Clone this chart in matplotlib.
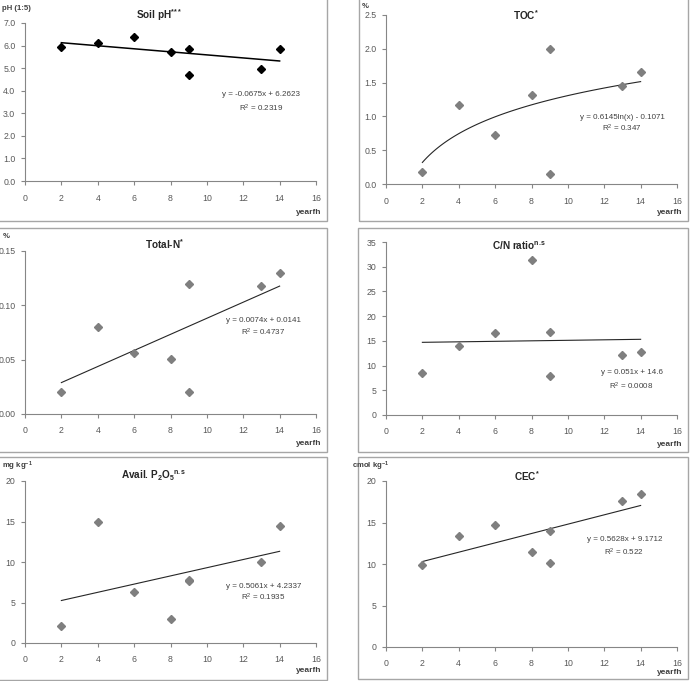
import numpy as np
import matplotlib
matplotlib.use("Agg")
import matplotlib.pyplot as plt
from matplotlib.patches import Rectangle
from matplotlib.transforms import offset_copy

plt.rcParams['font.family'] = ['Liberation Sans Narrow', 'Liberation Sans', 'DejaVu Sans']
plt.rcParams['mathtext.default'] = 'regular'

# years since ... (x values shared by all panels)
years = [2, 4, 6, 8, 9, 9, 13, 14]

ph = [5.93, 6.10, 6.38, 5.72, 5.83, 4.68, 4.95, 5.87]
toc = [0.18, 1.17, 0.73, 1.32, 2.00, 0.15, 1.45, 1.66]
total_n = [0.020, 0.080, 0.056, 0.051, 0.120, 0.020, 0.118, 0.130]
cn_ratio = [8.4, 14.0, 16.5, 31.4, 16.7, 7.8, 12.1, 12.7]
p2o5 = [2.1, 14.9, 6.3, 3.0, 7.8, 7.6, 10.0, 14.5]
cec = [9.9, 13.4, 14.7, 11.4, 14.0, 10.1, 17.6, 18.4]

# trend line coefficients (slope, intercept), kind
fits = [(-0.0675, 6.2623, 'lin'), (0.6145, -0.1071, 'log'), (0.0074, 0.0141, 'lin'),
        (0.051, 14.6, 'lin'), (0.5061, 4.2337, 'lin'), (0.5628, 9.1712, 'lin')]
eq_text = ["y = -0.0675x + 6.2623", "y = 0.6145ln(x) - 0.1071", "y = 0.0074x + 0.0141",
           "y = 0.051x + 14.6", "y = 0.5061x + 4.2337", "y = 0.5628x + 9.1712"]
r2_text = ["R$^2$ = 0.2319", "R$^2$ = 0.347", "R$^2$ = 0.4737",
           "R$^2$ = 0.0008", "R$^2$ = 0.1935", "R$^2$ = 0.522"]
titles = [r"Soil pH$^{*\!*\!*}$", "TOC$^{*}$", "Total-N$^{*}$",
          r"C/N ratio$^{n.\!s}$", r"Avail. P$_2$O$_5$$^{n.\!s}$", "CEC$^{*}$"]
units = ["pH (1:5)", "%", "%", "", "mg kg$^{-1}$", "cmol kg$^{-1}$"]
ylims = [(0, 7), (0, 2.5), (0, 0.15), (0, 35), (0, 20), (0, 20)]
ysteps = [1.0, 0.5, 0.05, 5, 5, 5]
yfmt = ["%.1f", "%.1f", "%.2f", "%d", "%d", "%d"]
series = [ph, toc, total_n, cn_ratio, p2o5, cec]

W, H = 690, 681
fig = plt.figure(figsize=(6.9, 6.81), dpi=100)

# axes rectangles in pixels: left, top, right, bottom
boxes_px = [(25, 23, 316, 181), (386, 15, 677, 184),
            (25, 251, 316, 414), (386, 242, 677, 415),
            (25, 481, 316, 643), (386, 481, 677, 647)]
title_pos = [(0.46, 1.05), (0.48, 1.0), (0.48, 1.04), (0.457, 0.98), (0.44, 1.03), (0.485, 1.03)]
unit_pos = [(2, 8), (362, 7), (3, 237), (0, 0), (2, 466), (352, 466)]
eq_pos = [(13.0, 3.85, 3.23), (12.98, 0.99, 0.83), (13.1, 0.0856, 0.0755),
          (13.5, 8.5, 5.7), (13.1, 7.0, 5.6), (13.1, 13.0, 11.4)]
xlabel_drop = [31, 29, 30, 30, 28, 26]  # pixels below x axis

# panel frames
frames = [(-3, -2, 327, 221), (359, -2, 688, 221),
          (-3, 228, 327, 452), (358, 228, 688, 452),
          (-3, 457, 327, 680), (358, 457, 688, 679)]
for l, t, r, b in frames:
    fig.patches.append(Rectangle((l / W, 1 - b / H), (r - l) / W, (b - t) / H,
                                 transform=fig.transFigure, fill=False,
                                 edgecolor='#a6a6a6', linewidth=1.0))

tick_color = '#595959'
for i in range(6):
    l, t, r, b = boxes_px[i]
    ax = fig.add_axes([l / W, 1 - b / H, (r - l) / W, (b - t) / H])
    ax.patch.set_alpha(0)
    mcolor = 'black' if i == 0 else '#7f7f7f'
    ax.plot(years, series[i], linestyle='none', marker='D', markersize=4.2,
            color=mcolor, zorder=3)
    a, c, kind = fits[i]
    xs = np.linspace(2, 14, 100)
    ys = a * np.log(xs) + c if kind == 'log' else a * xs + c
    ax.plot(xs, ys, color='black' if i == 0 else '#262626',
            linewidth=1.1 if i == 0 else 0.8, zorder=2)

    ax.set_xlim(0, 16)
    ax.set_xticks(np.arange(0, 17, 2))
    lo, hi = ylims[i]
    ax.set_ylim(lo, hi)
    ax.set_yticks(np.arange(lo, hi + ysteps[i] / 2, ysteps[i]))
    ax.yaxis.set_major_formatter(plt.FormatStrFormatter(yfmt[i]))
    for s in ['top', 'right']:
        ax.spines[s].set_visible(False)
    for s in ['left', 'bottom']:
        ax.spines[s].set_color('#868686')
        ax.spines[s].set_linewidth(0.8)
    ax.tick_params(axis='both', labelsize=6.3, colors='#868686', labelcolor=tick_color,
                   length=3, width=0.8, direction='out', pad=4)
    ax.tick_params(axis='x', pad=6)

    ax.text(title_pos[i][0], title_pos[i][1], titles[i], transform=ax.transAxes,
            ha='center', va='center', fontsize=7.2, fontweight='bold', color='#262626')
    ex, ey1, ey2 = eq_pos[i]
    ax.text(ex, ey1, eq_text[i], ha='center', va='center', fontsize=5.8, color='#404040')
    ax.text(ex, ey2, r2_text[i], ha='center', va='center', fontsize=5.8, color='#404040')
    tr = offset_copy(ax.transAxes, fig=fig, x=0, y=-xlabel_drop[i], units='dots')
    ax.text(1.02, 0, "yearfh", transform=tr,
            ha='right', va='center', fontsize=6, fontweight='bold', color='#404040')
    if units[i]:
        ux, uy = unit_pos[i]
        fig.text(ux / W, 1 - uy / H, units[i], ha='left', va='center',
                 fontsize=5.6, fontweight='bold', color='#404040')

fig.savefig("out.png", dpi=100)
